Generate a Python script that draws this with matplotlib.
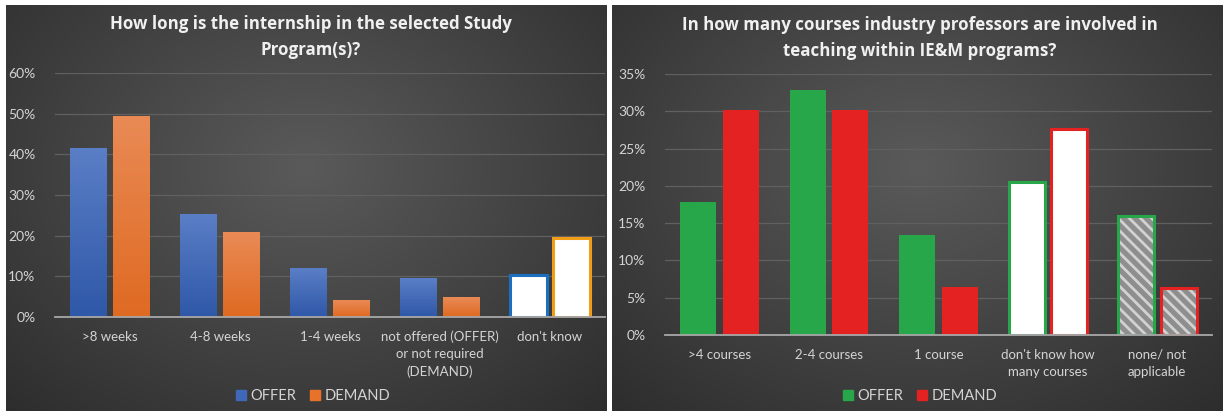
import numpy as np
import matplotlib
matplotlib.use('Agg')
import matplotlib.pyplot as plt
from matplotlib.patches import Patch
from matplotlib.colors import LinearSegmentedColormap
from matplotlib.ticker import FuncFormatter

plt.rcParams['font.family'] = ['Lato', 'DejaVu Sans']
plt.rcParams['hatch.linewidth'] = 2.0

# Left chart data
left_title = 'How long is the internship in the selected Study\nProgram(s)?'
left_categories = ['>8 weeks', '4-8 weeks', '1-4 weeks',
                   'not offered (OFFER)\nor not required\n(DEMAND)', "don't know"]
left_offer = [41.5, 25.3, 12.0, 9.5, 10.4]
left_demand = [49.4, 20.9, 4.1, 4.8, 19.4]
left_yticks = [0, 10, 20, 30, 40, 50, 60]

# Right chart data
right_title = 'In how many courses industry professors are involved in\nteaching within IE&M programs?'
right_categories = ['>4 courses', '2-4 courses', '1 course',
                    "don't know how\nmany courses", 'none/ not\napplicable']
right_offer = [17.9, 32.9, 13.4, 20.5, 15.9]
right_demand = [30.2, 30.2, 6.4, 27.6, 6.3]
right_yticks = [0, 5, 10, 15, 20, 25, 30, 35]

text_col = '#d4d4d4'
W, H = 1223, 412

fig = plt.figure(figsize=(W / 100, H / 100), dpi=100)
fig.patch.set_facecolor('white')

bg_cmap = LinearSegmentedColormap.from_list('bg', ['#2c2c2c', '#5a5a5a'])


def panel_bg(x0, x1):
    ax = fig.add_axes([x0 / W, 1 - 411 / H, (x1 - x0) / W, 406 / H], zorder=-5)
    yy, xx = np.mgrid[0:1:200j, 0:1:300j]
    r = np.sqrt(((xx - 0.5) / 0.75) ** 2 + ((yy - 0.4) / 0.85) ** 2)
    ax.imshow(1 - np.clip(r, 0, 1), cmap=bg_cmap, aspect='auto',
              extent=[0, 1, 0, 1], vmin=0, vmax=1)
    ax.set_axis_off()


def gradient_bar(ax, bar, top_col, bot_col):
    cm = LinearSegmentedColormap.from_list('g', [bot_col, top_col])
    x, y = bar.get_x(), bar.get_y()
    w, h = bar.get_width(), bar.get_height()
    im = ax.imshow(np.linspace(0, 1, 50).reshape(-1, 1), cmap=cm, aspect='auto',
                   origin='lower', extent=[x, x + w, y, y + h], zorder=3)
    im.set_clip_path(bar)


def setup_axes(ax, categories, yticks):
    ax.set_facecolor('none')
    ax.set_xlim(-0.5, len(categories) - 0.5)
    ax.set_ylim(0, yticks[-1])
    ax.set_yticks(yticks)
    ax.yaxis.set_major_formatter(FuncFormatter(lambda v, p: f'{v:.0f}%'))
    ax.set_xticks(range(len(categories)))
    ax.set_xticklabels(categories, linespacing=1.5)
    ax.tick_params(axis='both', length=0, colors=text_col, labelsize=9.5)
    ax.tick_params(axis='y', labelsize=10, pad=14)
    ax.tick_params(axis='x', pad=10)
    for s in ['top', 'right', 'left']:
        ax.spines[s].set_visible(False)
    ax.spines['bottom'].set_color('#a8a8a8')
    ax.spines['bottom'].set_linewidth(1.3)
    ax.spines['bottom'].set_zorder(5)
    ax.grid(axis='y', color='#606060', linewidth=0.9)
    ax.set_axisbelow(True)


w = 0.33
off = 0.195
title_font = dict(ha='center', va='center', color='#f0f0f0', fontsize=12.2,
                  fontweight='bold', linespacing=1.55, family=['Open Sans', 'DejaVu Sans'])
legend_opts = dict(loc='center', ncol=2, frameon=False, fontsize=10.5, labelcolor=text_col,
                   handlelength=0.7, handleheight=0.7, handletextpad=0.3, columnspacing=0.9)

# ---- left panel
panel_bg(6, 607)
ax1 = fig.add_axes([55 / W, 1 - 317 / H, 550 / W, 244 / H])
setup_axes(ax1, left_categories, left_yticks)
x = np.arange(len(left_categories))
for i in range(len(x)):
    if i < 4:
        b1 = ax1.bar(x[i] - off, left_offer[i], w, color='#3f68b8', zorder=2)[0]
        b2 = ax1.bar(x[i] + off, left_demand[i], w, color='#e9722a', zorder=2)[0]
        gradient_bar(ax1, b1, '#5a7ec6', '#2f58a8')
        gradient_bar(ax1, b2, '#e98a55', '#df6a22')
    else:
        ax1.bar(x[i] - off, left_offer[i], w, color='white', edgecolor='#1c6fc0',
                linewidth=2.2, zorder=3)
        ax1.bar(x[i] + off, left_demand[i], w, color='white', edgecolor='#f29d18',
                linewidth=2.2, zorder=3)
fig.text(311 / W, 1 - 37 / H, left_title, **title_font)
fig.legend(handles=[Patch(color='#3f68b8', label='OFFER'), Patch(color='#e9722a', label='DEMAND')],
           bbox_to_anchor=(313 / W, 1 - 396 / H), **legend_opts)

# ---- right panel
panel_bg(612, 1223)
ax2 = fig.add_axes([665 / W, 1 - 335 / H, 547 / W, 261 / H])
setup_axes(ax2, right_categories, right_yticks)
x = np.arange(len(right_categories))
green, red = '#27a74a', '#e42222'
for i in range(len(x)):
    if i < 3:
        ax2.bar(x[i] - off, right_offer[i], w, color=green, zorder=3)
        ax2.bar(x[i] + off, right_demand[i], w, color=red, zorder=3)
    elif i == 3:
        ax2.bar(x[i] - off, right_offer[i], w, color='white', edgecolor=green,
                linewidth=2.2, zorder=3)
        ax2.bar(x[i] + off, right_demand[i], w, color='white', edgecolor=red,
                linewidth=2.2, zorder=3)
    else:
        for xi, v, ec in [(x[i] - off, right_offer[i], green), (x[i] + off, right_demand[i], red)]:
            ax2.bar(xi, v, w, color='#8e8e8e', edgecolor='#d2d2d2', hatch='\\\\\\',
                    linewidth=0, zorder=3)
            ax2.bar(xi, v, w, color='none', edgecolor=ec, linewidth=2.2, zorder=4)
fig.text(920 / W, 1 - 38 / H, right_title, **title_font)
fig.legend(handles=[Patch(color=green, label='OFFER'), Patch(color=red, label='DEMAND')],
           bbox_to_anchor=(920 / W, 1 - 396 / H), **legend_opts)

fig.savefig('out.png', dpi=100, facecolor='white')
